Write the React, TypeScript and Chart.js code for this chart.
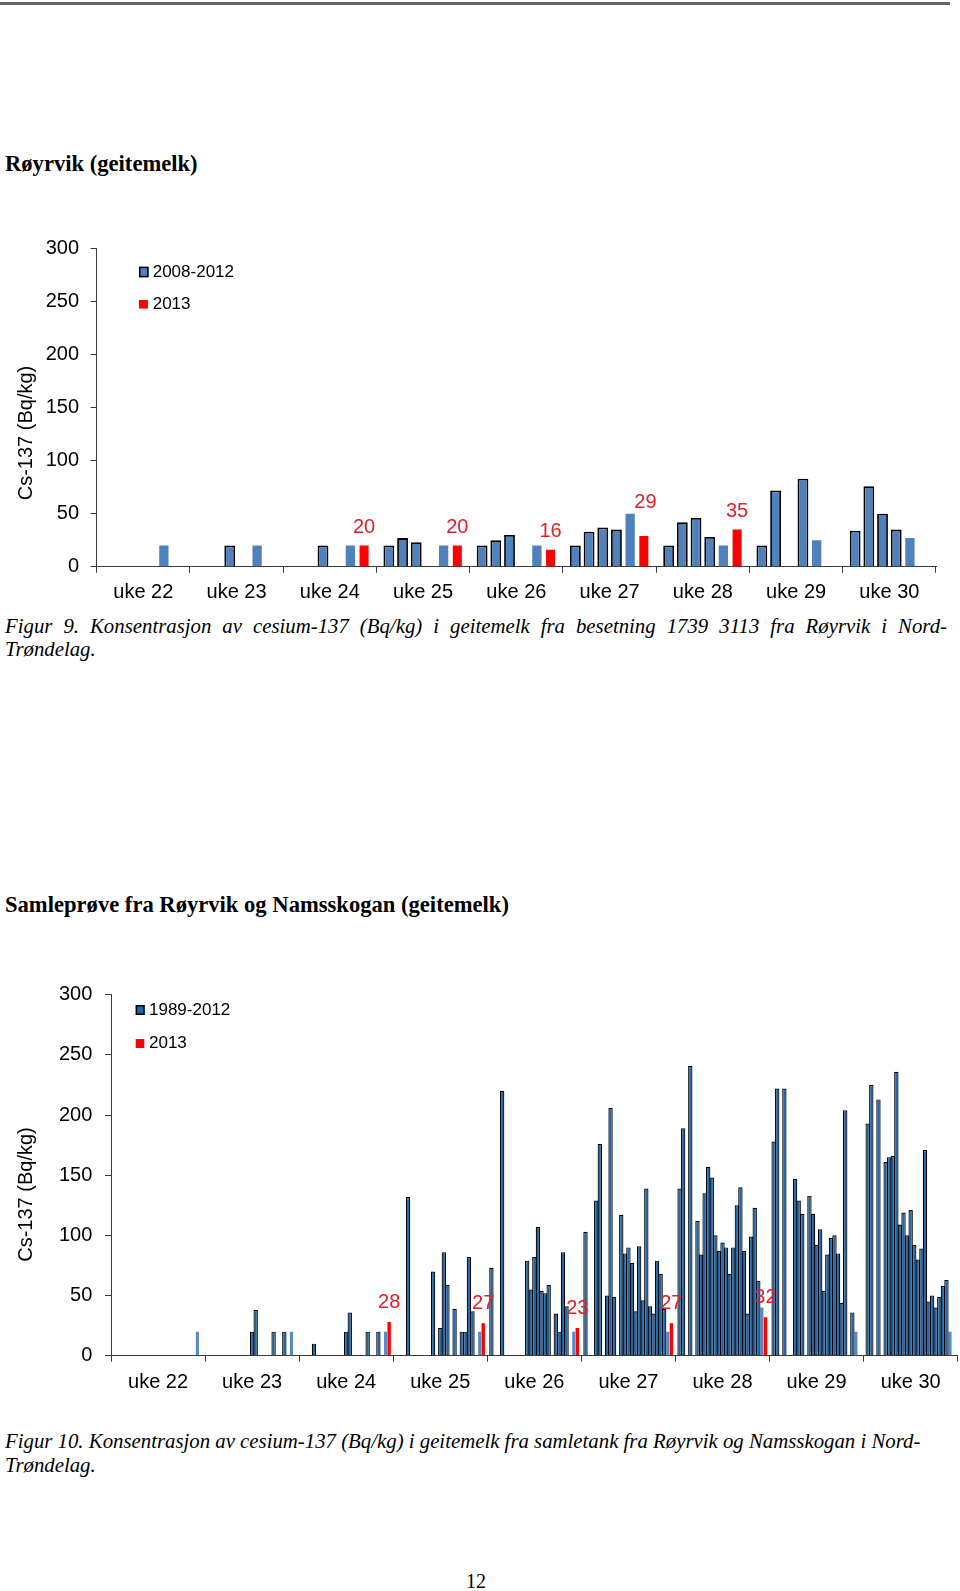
import React, { useEffect, useRef } from 'react';
import { Chart, registerables } from 'chart.js';

Chart.register(...registerables);

const _ = null;

// ---------- shared categories / ticks ----------
const weeks = ['uke 22', 'uke 23', 'uke 24', 'uke 25', 'uke 26', 'uke 27', 'uke 28', 'uke 29', 'uke 30'];
const yMin = 0;
const yMax = 300;
const yStep = 50;

// ---------- Figur 9: Røyrvik (geitemelk), one value per week per year ----------
const s2008 = [_, _, _, 20, 20, 20, 20, 20, 34];
const s2009 = [_, _, _, 27, 25, 33, 42, 72, 76];
const s2010 = [_, 20, 20, 23, 30, 37, 46, _, 50];
const s2011 = [_, _, _, _, _, 35, 28, 83, 35];
const s2012 = [20, 20, 20, 20, 20, 50, 20, 25, 27];
const s2013 = [_, _, 20, 20, 16, 29, 35, _, _];
const legend1 = ['2008-2012', '2013'];

// ---------- Figur 10: Samleprøve, one row per week, one value per year ----------
const years2 = [
  '1989', '1990', '1991', '1992', '1993', '1994', '1995', '1996', '1997', '1998',
  '1999', '2000', '2001', '2002', '2003', '2004', '2005', '2006', '2007', '2008',
  '2009', '2010', '2011', '2012', '2013',
];
const w22 = [_, _, _, _, _, _, _, _, _, _, _, _, _, _, _, _, _, _, _, _, _, _, _, 20, _];
const w23 = [_, _, _, _, _, _, _, _, _, _, _, _, 20, 38, _, _, _, _, 20, _, _, 20, _, 20, _];
const w24 = [_, _, _, 10, _, _, _, _, _, _, _, _, 20, 36, _, _, _, _, 20, _, _, 20, _, 20, 28];
const w25 = [_, _, _, 132, _, _, _, _, _, _, 70, _, 23, 86, 59, _, 39, _, 20, 20, 82, 37, _, 20, 27];
const w26 = [73, _, _, 220, _, _, _, _, _, _, 79, 55, 82, 107, 54, 52, 59, _, 35, 20, 86, 41, _, 20, 23];
const w27 = [103, _, _, 129, 176, _, 50, 206, 49, _, 117, 85, 90, 77, 37, 91, 46, 139, 41, 35, 79, 68, 39, 20, 27];
const w28 = [139, 189, _, 241, _, 112, 84, 135, 157, 148, 100, 87, 94, 90, 68, 90, 125, 140, 87, 35, 99, 123, 62, 40, 32];
const w29 = [178, 222, _, 222, _, _, 147, 129, 118, _, 133, 118, 92, 105, 54, 84, 98, 100, 85, 44, 204, _, 36, 20, _];
const w30 = [193, 225, _, 213, _, 161, 165, 166, 236, 109, 119, 100, 121, 92, 80, 89, 171, 45, 50, 40, 49, 58, 63, 20, _];
const legend2 = ['1989-2012', '2013'];

const yTitle = 'Cs-137 (Bq/kg)';

// ---------- styles ----------
const SANS = '"Liberation Sans", Arial, sans-serif';
const SERIF = '"Liberation Serif", "Times New Roman", serif';
const AXIS = '#3a3a3a';
const RED = '#ff0000';
const LABEL_RED = '#e0202a';
const BLUE1 = '#4f81bd';
const BLUE2 = '#2166a8';
const BLUE2_LIGHT = '#5a88c6';

type Geo = {
  top: number;
  height: number;
  padTop: number;
  padRight: number;
  yWidth: number;
  xHeight: number;
  xLabelPad: number;
  yLabelPad: number;
  titleX: number;
  titleY: number;
  legendX: number;
  legendTextX: number;
  legend: { boxY: number; boxH: number; boxW: number; textY: number; color: string; border: boolean }[];
  labelGap: number;
  labelShift: { dx: number; dy: number }[];
};

function decorPlugin(geo: Geo, legendTexts: string[], boxFill: string) {
  return {
    id: 'decor',
    afterDatasetsDraw(chart: any) {
      const ctx = chart.ctx as CanvasRenderingContext2D;
      ctx.save();
      // value labels over the 2013 bars
      const di = chart.data.datasets.length - 1;
      const meta = chart.getDatasetMeta(di);
      const vals = chart.data.datasets[di].data;
      ctx.font = `20px ${SANS}`;
      ctx.fillStyle = LABEL_RED;
      ctx.textAlign = 'center';
      ctx.textBaseline = 'alphabetic';
      meta.data.forEach((el: any, j: number) => {
        const v = vals[j];
        if (v === null || v === undefined) return;
        const sh = geo.labelShift[j] || { dx: 0, dy: 0 };
        ctx.fillText(String(v), el.x + sh.dx, el.y - geo.labelGap - sh.dy);
      });
      // legend
      ctx.font = `17px ${SANS}`;
      ctx.textAlign = 'left';
      ctx.textBaseline = 'middle';
      geo.legend.forEach((it, i) => {
        ctx.fillStyle = it.color === 'fill' ? boxFill : it.color;
        ctx.fillRect(geo.legendX, it.boxY, it.boxW, it.boxH);
        if (it.border) {
          ctx.strokeStyle = '#000';
          ctx.lineWidth = 1.5;
          ctx.strokeRect(geo.legendX + 0.75, it.boxY + 0.75, it.boxW - 1.5, it.boxH - 1.5);
        }
        ctx.fillStyle = '#000';
        ctx.fillText(legendTexts[i], geo.legendTextX, it.textY);
      });
      // y axis title
      ctx.translate(geo.titleX, geo.titleY);
      ctx.rotate(-Math.PI / 2);
      ctx.font = `20px ${SANS}`;
      ctx.textAlign = 'center';
      ctx.textBaseline = 'middle';
      ctx.fillStyle = '#000';
      ctx.fillText(yTitle, 0, 0);
      ctx.restore();
    },
  };
}

function BarChart({ geo, datasets, legendTexts, boxFill }: { geo: Geo; datasets: any[]; legendTexts: string[]; boxFill: string }) {
  const ref = useRef<HTMLCanvasElement>(null);
  useEffect(() => {
    const chart = new Chart(ref.current as HTMLCanvasElement, {
      type: 'bar',
      data: { labels: weeks, datasets },
      options: {
        animation: false,
        responsive: false,
        devicePixelRatio: 1,
        layout: { padding: { top: geo.padTop, right: geo.padRight, left: 0, bottom: 0 } },
        plugins: { legend: { display: false }, tooltip: { enabled: false } },
        scales: {
          x: {
            type: 'category',
            offset: true,
            grid: { offset: true, drawOnChartArea: false, drawTicks: true, tickLength: 6, color: AXIS, lineWidth: 1 },
            border: { display: true, color: AXIS, width: 1 },
            ticks: {
              color: '#000',
              font: { family: SANS, size: 20 },
              padding: geo.xLabelPad,
              maxRotation: 0,
              autoSkip: false,
            },
            afterFit: (s: any) => {
              s.height = geo.xHeight;
            },
          },
          y: {
            min: yMin,
            max: yMax,
            grid: { drawOnChartArea: false, drawTicks: true, tickLength: 6, color: AXIS, lineWidth: 1 },
            border: { display: true, color: AXIS, width: 1 },
            ticks: {
              stepSize: yStep,
              color: '#000',
              font: { family: SANS, size: 20 },
              padding: geo.yLabelPad,
            },
            afterFit: (s: any) => {
              s.width = geo.yWidth;
            },
          },
        },
      } as any,
      plugins: [decorPlugin(geo, legendTexts, boxFill) as any],
    });
    return () => chart.destroy();
  }, []);
  return (
    <canvas
      ref={ref}
      width={960}
      height={geo.height}
      style={{ position: 'absolute', left: 0, top: geo.top, width: 960, height: geo.height }}
    />
  );
}

// ---------- chart 1 datasets ----------
const CAT1 = 0.881;
const darkStyle1 = { backgroundColor: BLUE1, borderColor: '#000', borderWidth: 1.8, barPercentage: 0.79, categoryPercentage: CAT1 };
const datasets1 = [
  { label: '2008', data: s2008, ...darkStyle1 },
  { label: '2009', data: s2009, ...darkStyle1 },
  { label: '2010', data: s2010, ...darkStyle1 },
  { label: '2011', data: s2011, ...darkStyle1 },
  { label: '2012', data: s2012, backgroundColor: BLUE1, borderWidth: 0, barPercentage: 0.68, categoryPercentage: CAT1 },
  { label: '2013', data: s2013, backgroundColor: RED, borderWidth: 0, barPercentage: 0.66, categoryPercentage: CAT1 },
];

// ---------- chart 2 datasets ----------
const CAT2 = 0.951;
const weekRows2 = [w22, w23, w24, w25, w26, w27, w28, w29, w30];
const datasets2 = years2.map((yr, i) => {
  const data = weekRows2.map((row) => row[i]);
  if (yr === '2013') {
    return { label: yr, data, backgroundColor: RED, borderWidth: 0, barPercentage: 0.95, categoryPercentage: CAT2 };
  }
  if (yr === '2012') {
    return { label: yr, data, backgroundColor: BLUE2_LIGHT, borderWidth: 0, barPercentage: 0.85, categoryPercentage: CAT2 };
  }
  return { label: yr, data, backgroundColor: BLUE2, borderColor: '#000', borderWidth: 1.2, barPercentage: 1.22, categoryPercentage: CAT2 };
});

const noShift = { dx: 0, dy: 0 };

const geo1: Geo = {
  top: 225,
  height: 382,
  padTop: 20.3,
  padRight: 24,
  yWidth: 96.7,
  xHeight: 40.3,
  xLabelPad: 8,
  yLabelPad: 11.7,
  titleX: 26,
  titleY: 208,
  legendX: 139,
  legendTextX: 152.7,
  legend: [
    { boxY: 41.7, boxH: 10.6, boxW: 9.6, textY: 47, color: 'fill', border: true },
    { boxY: 75, boxH: 8.6, boxW: 9, textY: 79, color: RED, border: false },
  ],
  labelGap: 13,
  labelShift: [noShift, noShift, noShift, noShift, noShift, { dx: 1.6, dy: 14.7 }, noShift, noShift, noShift],
};

const geo2: Geo = {
  top: 970,
  height: 425,
  padTop: 20,
  padRight: 2.3,
  yWidth: 111,
  xHeight: 39.3,
  xLabelPad: 9,
  yLabelPad: 12.7,
  titleX: 26,
  titleY: 224.5,
  legendX: 135.7,
  legendTextX: 149,
  legend: [
    { boxY: 35, boxH: 10, boxW: 9, textY: 40, color: 'fill', border: true },
    { boxY: 69, boxH: 9, boxW: 8.6, textY: 73.3, color: RED, border: false },
  ],
  labelGap: 14,
  labelShift: [],
};

const textBase: React.CSSProperties = {
  position: 'absolute',
  left: 5,
  fontFamily: SERIF,
  fontSize: 20.8,
  lineHeight: '20.8px',
  whiteSpace: 'nowrap',
  color: '#000',
};

const titleBase: React.CSSProperties = {
  ...textBase,
  fontSize: 22.6,
  lineHeight: '22.6px',
  fontWeight: 700,
};

export default function App() {
  return (
    <div
      style={{
        position: 'absolute',
        left: 0,
        top: 0,
        width: 960,
        height: 1591,
        overflow: 'hidden',
        background: '#fff',
      }}
    >
      <div style={{ position: 'absolute', left: 0, top: 2, width: 950, height: 3, background: '#666' }} />

      <div style={{ ...titleBase, top: 153.1 }}>Røyrvik (geitemelk)</div>

      <BarChart geo={geo1} datasets={datasets1} legendTexts={legend1} boxFill={BLUE1} />

      <div
        style={{
          ...textBase,
          top: 615.6,
          width: 942,
          fontStyle: 'italic',
          whiteSpace: 'normal',
          textAlign: 'justify',
          textAlignLast: 'justify' as any,
        }}
      >
        Figur 9. Konsentrasjon av cesium-137 (Bq/kg) i geitemelk fra besetning 1739 3113 fra Røyrvik i Nord-
      </div>
      <div style={{ ...textBase, top: 639.1, fontStyle: 'italic' }}>Trøndelag.</div>

      <div style={{ ...titleBase, top: 893.7 }}>Samleprøve fra Røyrvik og Namsskogan (geitemelk)</div>

      <BarChart geo={geo2} datasets={datasets2} legendTexts={legend2} boxFill={BLUE2} />

      <div style={{ ...textBase, top: 1430.6, fontStyle: 'italic' }}>
        Figur 10. Konsentrasjon av cesium-137 (Bq/kg) i geitemelk fra samletank fra Røyrvik og Namsskogan i Nord-
      </div>
      <div style={{ ...textBase, top: 1455.1, fontStyle: 'italic' }}>Trøndelag.</div>

      <div style={{ ...textBase, fontSize: 20, lineHeight: '20px', left: 466, top: 1571 }}>12</div>
    </div>
  );
}
